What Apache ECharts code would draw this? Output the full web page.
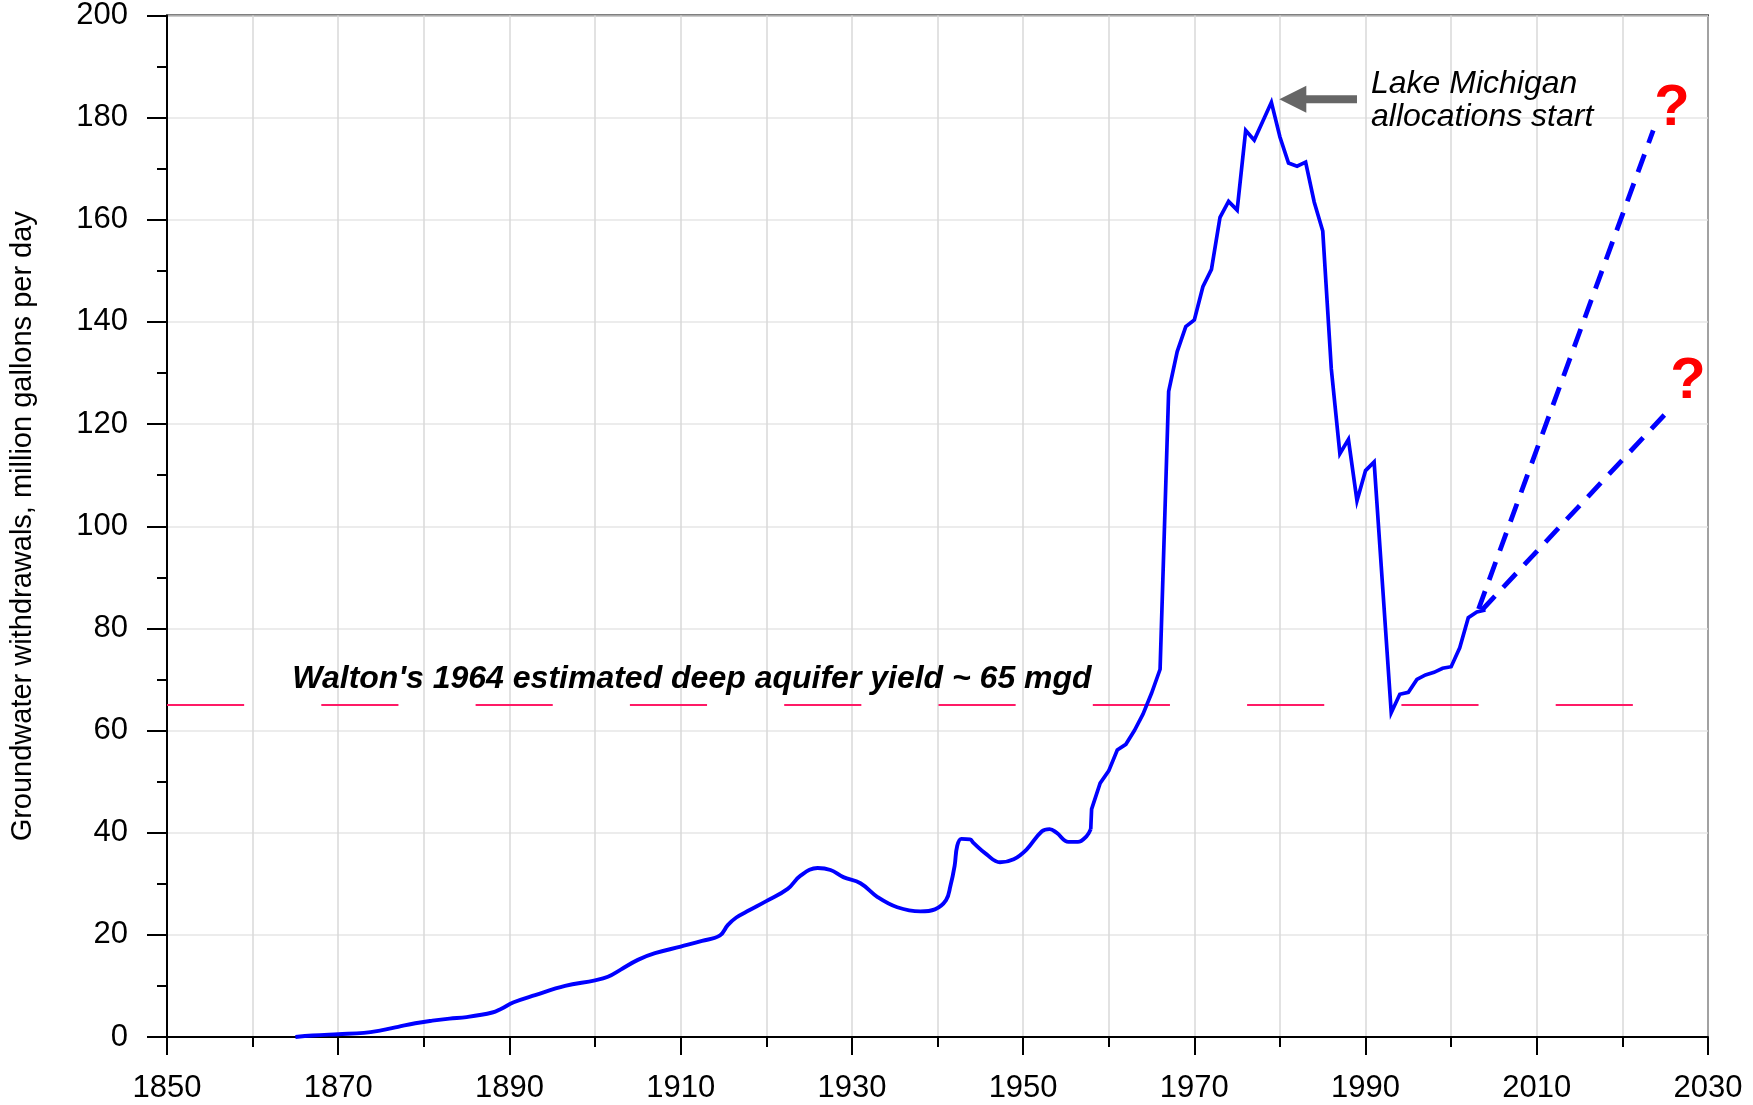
<!DOCTYPE html>
<html><head><meta charset="utf-8">
<script src="https://cdn.jsdelivr.net/npm/echarts@6/dist/echarts.min.js"></script>
<style>html,body{margin:0;padding:0;background:#fff}#c{width:1753px;height:1105px}</style>
</head><body><div id="c"></div>
<script>
// ---- data ----
const earlyYears = [1865, 1867, 1870, 1873, 1875, 1877, 1879, 1881, 1883, 1885, 1888, 1889, 1890.5, 1893, 1896.5, 1900, 1901.5, 1903, 1905, 1907, 1910, 1912.5, 1914.6, 1915.5, 1916.5, 1918, 1920, 1922.5, 1924, 1926, 1927.5, 1929, 1931, 1933, 1935.3, 1938, 1939.7, 1941, 1941.5, 1942, 1942.3, 1942.8, 1943.8, 1944.2, 1945.7, 1947.3, 1948.9, 1950.4, 1952.2, 1953.1, 1953.9, 1955.3, 1956.4, 1957.4, 1957.9];
const earlyValues = [0, 0.3, 0.55, 0.8, 1.3, 2.0, 2.7, 3.2, 3.6, 3.9, 4.8, 5.5, 6.8, 8.2, 10.0, 11.1, 11.8, 13.2, 15.1, 16.4, 17.7, 18.8, 19.9, 21.9, 23.4, 24.8, 26.6, 29.0, 31.6, 33.1, 32.7, 31.3, 30.1, 27.4, 25.4, 24.6, 25.0, 26.8, 29.5, 33.5, 37.4, 38.8, 38.7, 38.0, 35.8, 34.2, 34.8, 36.7, 40.3, 40.7, 40.0, 38.2, 38.2, 39.3, 40.7];
const lateYears = [1957.9, 1958, 1959, 1960, 1961, 1962, 1963, 1964, 1965, 1966, 1967, 1968, 1969, 1970, 1971, 1972, 1973, 1974, 1975, 1976, 1977, 1979, 1980, 1981, 1982, 1983, 1984, 1985, 1986, 1987, 1988, 1989, 1990, 1991, 1993, 1994, 1995, 1996, 1997, 1998, 1999, 2000, 2001, 2002, 2003, 2004];
const lateValues = [40.7, 44.6, 49.7, 52.1, 56.2, 57.3, 60.0, 63.2, 67.3, 72.0, 126.4, 134.2, 139.1, 140.4, 146.9, 150.3, 160.5, 163.6, 161.9, 177.5, 175.6, 183.0, 176.2, 171.1, 170.5, 171.3, 163.5, 157.8, 130.8, 114.2, 117.0, 105.0, 110.9, 112.6, 63.5, 67.1, 67.5, 70.0, 70.9, 71.4, 72.2, 72.5, 76.2, 82.1, 83.2, 83.6];
const highProjYears = [2003.2, 2023.6];
const highProjValues = [83.8, 177.5];
const lowProjYears = [2003.6, 2025.3];
const lowProjValues = [83.6, 122.5];
const yieldYears = [1850, 2030];
const yieldValues = [65, 65];
const arrowYears = [1989.0, 1981.5];
const arrowValues = [183.6, 183.6];
const xRange = [1850, 2030];
const yRange = [0, 200];
const yAxisTitle = 'Groundwater withdrawals, million gallons per day';
const waltonText = "Walton's 1964 estimated deep aquifer yield ~ 65 mgd";
const lakeLines = ['Lake Michigan', 'allocations start'];

const pairs = (xs, ys) => xs.map((x, i) => [x, ys[i]]);
const FONT = '"Liberation Sans", Arial, sans-serif';
const BLUE = '#0000ff';

const chart = echarts.init(document.getElementById('c'), null, {renderer: 'canvas'});
chart.setOption({
  animation: false,
  backgroundColor: '#ffffff',
  grid: {left: 165, right: 45, top: 15, bottom: 68, show: true, borderColor: '#000', borderWidth: 2, backgroundColor: 'transparent'},
  xAxis: {
    type: 'value', min: xRange[0], max: xRange[1], interval: 20,
    axisLine: {show: true, onZero: false, lineStyle: {color: '#000', width: 2}},
    axisTick: {show: true, length: 18, lineStyle: {color: '#000', width: 2}},
    minorTick: {show: true, splitNumber: 2, length: 10, lineStyle: {color: '#000', width: 2}},
    splitLine: {show: true, lineStyle: {color: '#d9d9d9', width: 1.5}},
    minorSplitLine: {show: true, lineStyle: {color: '#d9d9d9', width: 1.5}},
    axisLabel: {color: '#000', fontSize: 31, fontFamily: FONT, margin: 36, formatter: v => String(v)}
  },
  yAxis: {
    type: 'value', min: yRange[0], max: yRange[1], interval: 20,
    name: yAxisTitle, nameLocation: 'middle', nameGap: 130, nameRotate: 90,
    nameTextStyle: {color: '#000', fontSize: 29, fontFamily: FONT},
    axisLine: {show: true, onZero: false, lineStyle: {color: '#000', width: 2}},
    axisTick: {show: true, length: 20, lineStyle: {color: '#000', width: 2}},
    minorTick: {show: true, splitNumber: 2, length: 10, lineStyle: {color: '#000', width: 2}},
    splitLine: {show: true, lineStyle: {color: '#e6e6e6', width: 1.5}},
    axisLabel: {color: '#000', fontSize: 31, fontFamily: FONT, margin: 39, formatter: v => String(v)}
  },
  series: [
    {type: 'line', data: pairs(yieldYears, yieldValues), symbol: 'none', z: 1,
     lineStyle: {color: '#ff1a66', width: 2, type: [77.15, 77.15]}},
    {type: 'line', data: pairs(earlyYears, earlyValues), symbol: 'none', smooth: 0.4, z: 3,
     lineStyle: {color: BLUE, width: 3.9}},
    {type: 'line', data: pairs(lateYears, lateValues), symbol: 'none', z: 3,
     lineStyle: {color: BLUE, width: 3.7, join: 'miter'}},
    {type: 'line', data: pairs(highProjYears, highProjValues), symbol: 'none', z: 3,
     lineStyle: {color: BLUE, width: 4.8, type: [19, 12]}},
    {type: 'line', data: pairs(lowProjYears, lowProjValues), symbol: 'none', z: 3,
     lineStyle: {color: BLUE, width: 4.8, type: [19, 12]}},
    {type: 'line', z: 4,
     data: [{value: [arrowYears[0], arrowValues[0]], symbol: 'none'},
            {value: [arrowYears[1], arrowValues[1]], symbol: 'triangle', symbolSize: [27, 27], symbolRotate: 90}],
     showSymbol: true, itemStyle: {color: '#666666'},
     lineStyle: {color: '#666666', width: 8}}
  ],
  graphic: [
    {type: 'text', x: 692, y: 679, z: 10, style: {text: waltonText, font: 'italic bold 32px ' + FONT, fill: '#000', align: 'center', verticalAlign: 'middle', textAlign: 'center', textVerticalAlign: 'middle'}},
    {type: 'text', x: 1371, y: 84, z: 10, style: {text: lakeLines[0], font: 'italic 32px ' + FONT, fill: '#000', align: 'left', verticalAlign: 'middle', textAlign: 'left', textVerticalAlign: 'middle'}},
    {type: 'text', x: 1371, y: 117, z: 10, style: {text: lakeLines[1], font: 'italic 32px ' + FONT, fill: '#000', align: 'left', verticalAlign: 'middle', textAlign: 'left', textVerticalAlign: 'middle'}},
    {type: 'text', x: 1672, y: 109, z: 10, style: {text: '?', font: 'bold 58px ' + FONT, fill: '#ff0000', align: 'center', verticalAlign: 'middle', textAlign: 'center', textVerticalAlign: 'middle'}},
    {type: 'text', x: 1688, y: 382, z: 10, style: {text: '?', font: 'bold 58px ' + FONT, fill: '#ff0000', align: 'center', verticalAlign: 'middle', textAlign: 'center', textVerticalAlign: 'middle'}}
  ]
});
</script></body></html>
